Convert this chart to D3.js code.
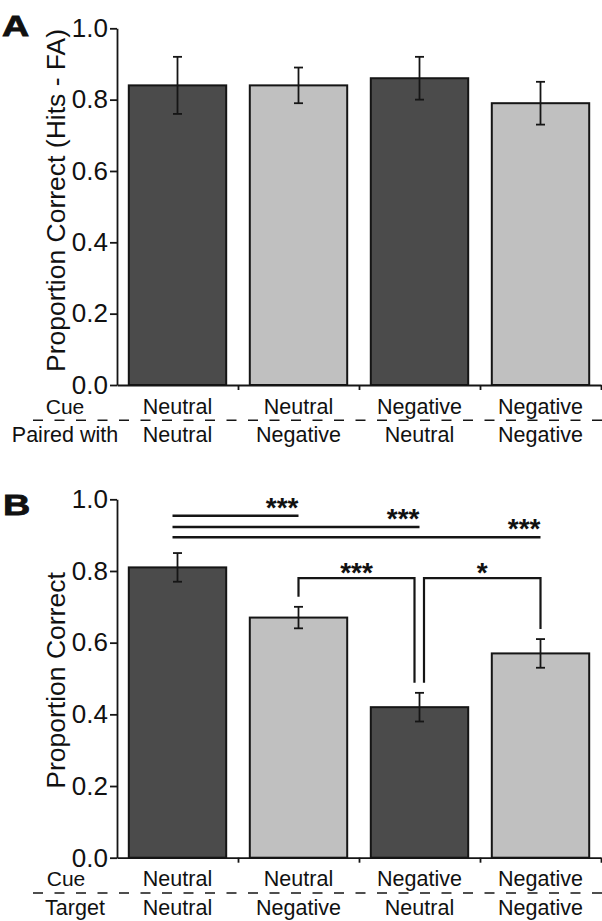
<!DOCTYPE html>
<html>
<head>
<meta charset="utf-8">
<script src="https://cdn.jsdelivr.net/npm/d3@7"></script>
<style>
  html, body { margin: 0; padding: 0; background: #fff; }
  text { font-family: "Liberation Sans", Arial, sans-serif; fill: #111; }
</style>
</head>
<body>
<svg id="chart" width="602" height="921"></svg>
<script>
// ---------------- data ----------------
const categories = ["c1", "c2", "c3", "c4"];
const cueLabels = ["Neutral", "Neutral", "Negative", "Negative"];
const pairedLabels = ["Neutral", "Negative", "Neutral", "Negative"];
const targetLabels = ["Neutral", "Negative", "Neutral", "Negative"];
const barShade = ["dark", "light", "dark", "light"];

const valuesA = [0.84, 0.84, 0.86, 0.79];
const errLowA = [0.76, 0.79, 0.80, 0.73];
const errHighA = [0.92, 0.89, 0.92, 0.85];

const valuesB = [0.81, 0.67, 0.42, 0.57];
const errLowB = [0.77, 0.64, 0.38, 0.53];
const errHighB = [0.85, 0.70, 0.46, 0.61];

const yTicks = [0, 0.2, 0.4, 0.6, 0.8, 1.0];

// significance: long lines from first bar
const sigLinesB = [
  { from: 0, to: 1, level: 0.954, label: "***" },
  { from: 0, to: 2, level: 0.923, label: "***" },
  { from: 0, to: 3, level: 0.894, label: "***" }
];
// significance brackets
const sigBracketsB = [
  { from: 1, to: 2, level: 0.78, label: "***" },
  { from: 2, to: 3, level: 0.78, label: "*" }
];

// ---------------- drawing ----------------
const svg = d3.select("#chart");
const ink = "#151515";
const colors = { dark: "#4b4b4b", light: "#c0c0c0" };

const xLeft = 117, xRight = 601;
const x = d3.scaleBand().domain(categories).range([xLeft, xRight])
  .paddingInner(0.195).paddingOuter(0.0975);
const xEdge = d3.scaleLinear().domain([0, categories.length]).range([xLeft, xRight]);
const cx = i => x(categories[i]) + x.bandwidth() / 2;

function drawPanel(opt) {
  const y = d3.scaleLinear().domain([0, 1]).range([opt.y0, opt.y1]);
  const g = svg.append("g");

  // bars
  g.selectAll("rect.bar").data(opt.values).join("rect")
    .attr("class", "bar")
    .attr("x", (d, i) => x(categories[i]))
    .attr("width", x.bandwidth())
    .attr("y", d => y(d))
    .attr("height", d => y(0) - y(d))
    .attr("fill", (d, i) => colors[barShade[i]])
    .attr("stroke", ink).attr("stroke-width", 2);

  // error bars
  const cap = 4.5;
  const eb = g.selectAll("g.err").data(opt.values).join("g").attr("class", "err")
    .attr("stroke", ink).attr("stroke-width", 1.8);
  eb.append("line").attr("x1", (d, i) => cx(i)).attr("x2", (d, i) => cx(i))
    .attr("y1", (d, i) => y(opt.lo[i])).attr("y2", (d, i) => y(opt.hi[i]));
  eb.append("line").attr("x1", (d, i) => cx(i) - cap).attr("x2", (d, i) => cx(i) + cap)
    .attr("y1", (d, i) => y(opt.hi[i])).attr("y2", (d, i) => y(opt.hi[i]));
  eb.append("line").attr("x1", (d, i) => cx(i) - cap).attr("x2", (d, i) => cx(i) + cap)
    .attr("y1", (d, i) => y(opt.lo[i])).attr("y2", (d, i) => y(opt.lo[i]));

  // y axis
  const ya = g.append("g").attr("transform", `translate(${xLeft},0)`)
    .call(d3.axisLeft(y).tickValues(yTicks).tickFormat(d3.format(".1f"))
      .tickSize(7).tickSizeOuter(0).tickPadding(2));
  ya.select(".domain").attr("stroke", ink).attr("stroke-width", 1.8);
  ya.selectAll(".tick line").attr("stroke", ink).attr("stroke-width", 1.8);
  ya.selectAll(".tick text").attr("font-size", 26).attr("fill", ink)
    .attr("font-family", "Liberation Sans, Arial, sans-serif");

  // x axis
  const xa = g.append("g").attr("transform", `translate(0,${opt.y0})`)
    .call(d3.axisBottom(xEdge).tickValues([1, 2, 3, 4]).tickFormat("")
      .tickSize(5).tickSizeOuter(0));
  xa.select(".domain").attr("stroke", ink).attr("stroke-width", 1.8);
  xa.selectAll(".tick line").attr("stroke", ink).attr("stroke-width", 1.8);

  // y title
  g.append("text")
    .attr("transform", `translate(65,${opt.titleY}) rotate(-90)`)
    .attr("text-anchor", "middle").attr("font-size", 26.5)
    .text(opt.title);

  // category rows
  const b1 = opt.y0 + 28.5, dashY = opt.y0 + 35.3, b2 = opt.y0 + 57;
  g.selectAll("text.row1").data(cueLabels).join("text").attr("class", "row1")
    .attr("x", (d, i) => cx(i)).attr("y", b1)
    .attr("text-anchor", "middle").attr("font-size", 21.5).text(d => d);
  g.selectAll("text.row2").data(opt.row2).join("text").attr("class", "row2")
    .attr("x", (d, i) => cx(i)).attr("y", b2)
    .attr("text-anchor", "middle").attr("font-size", 21.5).text(d => d);
  g.append("text").attr("x", opt.rowLabelX[0]).attr("y", b1)
    .attr("text-anchor", "middle").attr("font-size", 21).text("Cue");
  g.append("text").attr("x", opt.rowLabelX[1]).attr("y", b2)
    .attr("text-anchor", "middle").attr("font-size", 21.5).text(opt.row2Name);
  g.append("line").attr("x1", 33).attr("x2", 602).attr("y1", dashY).attr("y2", dashY)
    .attr("stroke", ink).attr("stroke-width", 1.5).attr("stroke-dasharray", "10,11.5");

  // panel letter
  g.append("text").attr("transform", `translate(${opt.letterX},${opt.letterY}) scale(1.3,1)`)
    .attr("font-size", 29).attr("font-weight", "bold")
    .attr("stroke", "#111").attr("stroke-width", 0.8).text(opt.letter);

  return { g, y };
}

drawPanel({
  y0: 385, y1: 28.3, values: valuesA, lo: errLowA, hi: errHighA,
  title: "Proportion Correct (Hits - FA)", titleY: 200.5,
  row2: pairedLabels, row2Name: "Paired with", rowLabelX: [65, 65],
  letter: "A", letterX: 2, letterY: 36
});

const pB = drawPanel({
  y0: 857.7, y1: 499.3, values: valuesB, lo: errLowB, hi: errHighB,
  title: "Proportion Correct", titleY: 680.5,
  row2: targetLabels, row2Name: "Target", rowLabelX: [66, 75],
  letter: "B", letterX: 3, letterY: 515
});

// significance lines in panel B
const yB = pB.y, gB = pB.g;
sigLinesB.forEach(s => {
  const yy = yB(s.level);
  const x1 = cx(s.from) - 5, x2 = cx(s.to);
  gB.append("line").attr("x1", x1).attr("x2", x2).attr("y1", yy).attr("y2", yy)
    .attr("stroke", ink).attr("stroke-width", 2.5);
  gB.append("text").attr("x", x2).attr("y", yy + 1)
    .attr("text-anchor", "end").attr("font-size", 28).attr("font-weight", "bold")
    .text(s.label);
});

sigBracketsB.forEach((s, k) => {
  const yy = yB(s.level);
  const xa = cx(s.from) + (k === 1 ? 4.5 : 0);
  const xb = cx(s.to) - (k === 0 ? 5 : 0);
  const ya = yB(errHighB[s.from]) - 10;
  const yb = yB(errHighB[s.to]) - 10;
  gB.append("path")
    .attr("d", d3.line()([[xa, ya], [xa, yy], [xb, yy], [xb, yb]]))
    .attr("fill", "none").attr("stroke", ink).attr("stroke-width", 2.2);
  gB.append("text").attr("x", (xa + xb) / 2).attr("y", yy + 3.5)
    .attr("text-anchor", "middle").attr("font-size", 28).attr("font-weight", "bold")
    .text(s.label);
});
</script>
</body>
</html>
